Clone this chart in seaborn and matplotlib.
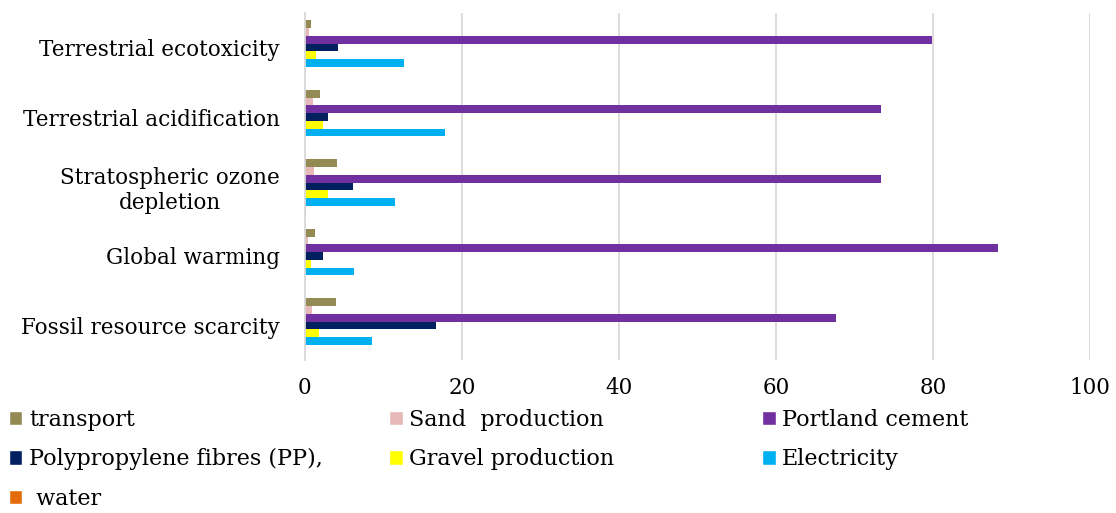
import pandas as pd
import seaborn as sns
import matplotlib.pyplot as plt
from matplotlib.patches import Patch

# categories, top to bottom
categories = ["Terrestrial ecotoxicity", "Terrestrial acidification",
              "Stratospheric ozone\ndepletion", "Global warming",
              "Fossil resource scarcity"]

# contribution (%) of each process, same order as categories
transport = [0.8, 1.9, 4.1, 1.3, 4.0]
sand = [0.6, 1.1, 1.2, 0.4, 0.95]
portland = [79.8, 73.4, 73.4, 88.3, 67.6]
pp_fibres = [4.3, 3.0, 6.1, 2.3, 16.7]
gravel = [1.5, 2.3, 3.0, 0.8, 1.85]
electricity = [12.6, 17.9, 11.5, 6.3, 8.6]
water = [0.1, 0.1, 0.2, 0.1, 0.1]

series = ["transport", "Sand  production", "Portland cement",
          "Polypropylene fibres (PP),", "Gravel production", "Electricity",
          " water"]
colors = ["#948A54", "#E6B9B8", "#7030A0", "#002060", "#FFFF00", "#00B0F0", "#E36C09"]
xticks = [0, 20, 40, 60, 80, 100]

values = [transport, sand, portland, pp_fibres, gravel, electricity, water]
rows = []
for name, vals in zip(series, values):
    for cat, v in zip(categories, vals):
        rows.append({"category": cat, "process": name, "value": v})
df = pd.DataFrame(rows)

sns.set_style("white", {"text.color": "black", "xtick.color": "black",
                        "ytick.color": "black"})
plt.rcParams['font.family'] = ['DejaVu Serif']

fig = plt.figure(figsize=(11.16, 5.13), dpi=100)
ax = fig.add_axes([0.273, 0.298, 0.704, 0.677])

sns.barplot(data=df, y="category", x="value", hue="process",
            order=categories, hue_order=series, palette=colors,
            orient="h", width=0.78, saturation=1, linewidth=0,
            ax=ax, legend=False)

ax.set_xlim(0, 100)
ax.set_xticks(xticks)
ax.set_xticklabels([str(t) for t in xticks])
ax.xaxis.grid(True, color="#d9d9d9", linewidth=1.3)
ax.set_axisbelow(True)
ax.set_xlabel("")
ax.set_ylabel("")
for s in ["top", "right", "bottom"]:
    ax.spines[s].set_visible(False)
ax.spines["left"].set_color("#d9d9d9")
ax.spines["left"].set_linewidth(1.3)
ax.tick_params(axis="both", length=0, labelsize=15.5, labelcolor="black")
ax.tick_params(axis="x", pad=12)
ax.tick_params(axis="y", pad=18)
for lbl in ax.get_yticklabels():
    lbl.set_multialignment("center")

# legend in three columns, filled row by row
cols = [[0, 3, 6], [1, 4], [2, 5]]
xpos = [0.0, 0.341, 0.675]
for idx, x0 in zip(cols, xpos):
    handles = [Patch(facecolor=colors[i], label=series[i]) for i in idx]
    fig.legend(handles=handles, loc="upper left", bbox_to_anchor=(x0, 0.221),
               frameon=False, fontsize=16, handlelength=0.6, handleheight=0.6,
               handletextpad=0.3, labelspacing=0.8, borderaxespad=0,
               labelcolor="black")

fig.savefig("out.png", dpi=100)
